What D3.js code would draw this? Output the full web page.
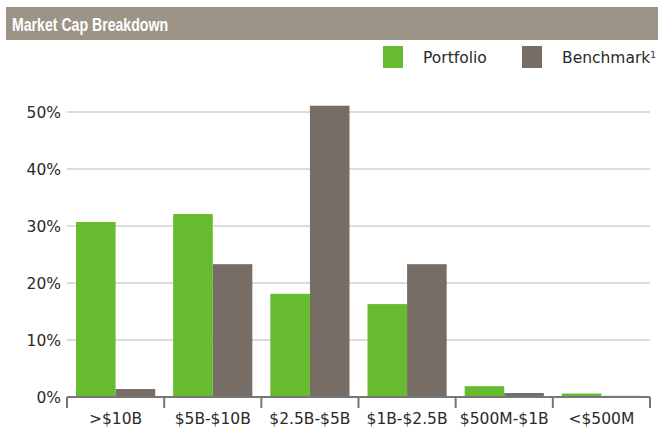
<!DOCTYPE html>
<html lang="en">
<head>
  <meta charset="UTF-8">
  <title>Market Cap Breakdown</title>
  <style>
    body { margin: 0; background: #fff; }
    svg { display: block; font-family: "DejaVu Sans", sans-serif; }
  </style>
</head>
<body>
<div id="chart"></div>
<script src="https://d3js.org/d3.v7.min.js"></script>
<script>
  const categories = [">$10B", "$5B-$10B", "$2.5B-$5B", "$1B-$2.5B", "$500M-$1B", "<$500M"];
  const portfolio = [30.7, 32.1, 18.1, 16.3, 1.9, 0.6];
  const benchmark = [1.4, 23.3, 51.1, 23.3, 0.7, 0.2];
  const yTicks = [0, 10, 20, 30, 40, 50];
  const seriesNames = ["Portfolio", "Benchmark"];

  const width = 658, height = 427;
  const colors = { Portfolio: "#66bb2e", Benchmark: "#766d66" };
  const textColor = "#2a2a2a";

  const svg = d3.select("#chart").append("svg")
    .attr("width", width)
    .attr("height", height);

  // title bar
  svg.append("rect")
    .attr("x", 6).attr("y", 7)
    .attr("width", width - 6).attr("height", 33)
    .attr("fill", "#9d9488");
  svg.append("text")
    .attr("x", 12).attr("y", 31)
    .attr("fill", "#fff")
    .attr("textLength", 156)
    .attr("lengthAdjust", "spacingAndGlyphs")
    .style("font-family", "'Liberation Sans', sans-serif")
    .style("font-weight", "bold")
    .style("font-size", "18.5px")
    .text("Market Cap Breakdown");

  // legend
  const legendX = [383, 522];
  seriesNames.forEach((name, i) => {
    svg.append("rect")
      .attr("x", legendX[i]).attr("y", 46)
      .attr("width", 20).attr("height", 22)
      .attr("fill", colors[name]);
    const t = svg.append("text")
      .attr("x", legendX[i] + 40).attr("y", 63)
      .attr("fill", textColor)
      .style("font-size", "15.5px")
      .text(name);
    if (name === "Benchmark") {
      t.append("tspan").attr("dy", -5).style("font-size", "9px").text("1");
    }
  });

  const x = d3.scaleBand()
    .domain(categories)
    .range([67, 650])
    .paddingInner(0)
    .paddingOuter(0);

  const y = d3.scaleLinear()
    .domain([0, 50])
    .range([397, 112]);

  // gridlines
  svg.append("g")
    .selectAll("line")
    .data(yTicks.filter(d => d > 0))
    .join("line")
    .attr("x1", 67).attr("x2", 650)
    .attr("y1", d => y(d)).attr("y2", d => y(d))
    .attr("stroke", "#dcdcdc")
    .attr("stroke-width", 2);

  // y labels
  svg.append("g")
    .selectAll("text")
    .data(yTicks)
    .join("text")
    .attr("x", 61)
    .attr("y", d => y(d))
    .attr("dy", "0.36em")
    .attr("text-anchor", "end")
    .attr("fill", textColor)
    .style("font-size", "15.5px")
    .text(d => d + "%");

  // bars
  const pad = 9;
  const bw = (x.bandwidth() - 2 * pad) / 2;
  const groups = svg.append("g")
    .selectAll("g")
    .data(categories)
    .join("g")
    .attr("transform", d => `translate(${x(d) + pad},0)`);

  groups.append("rect")
    .attr("x", 0)
    .attr("y", (d, i) => y(portfolio[i]))
    .attr("width", bw)
    .attr("height", (d, i) => y(0) - y(portfolio[i]))
    .attr("fill", colors.Portfolio);

  groups.append("rect")
    .attr("x", bw)
    .attr("y", (d, i) => y(benchmark[i]))
    .attr("width", bw)
    .attr("height", (d, i) => y(0) - y(benchmark[i]))
    .attr("fill", colors.Benchmark);

  // x axis
  const xAxis = svg.append("g")
    .attr("transform", `translate(0,${y(0)})`)
    .call(d3.axisBottom(x).tickSize(0).tickFormat(""));
  xAxis.select(".domain").remove();
  xAxis.append("line")
    .attr("x1", 67).attr("x2", 650)
    .attr("stroke", "#777").attr("stroke-width", 2);
  const bounds = categories.map(c => x(c)).concat([x.range()[1]]);
  xAxis.selectAll(".sep")
    .data(bounds)
    .join("line")
    .attr("class", "sep")
    .attr("x1", d => d).attr("x2", d => d)
    .attr("y1", 0).attr("y2", 11)
    .attr("stroke", "#777").attr("stroke-width", 2);

  svg.append("g")
    .selectAll("text")
    .data(categories)
    .join("text")
    .attr("x", d => x(d) + x.bandwidth() / 2)
    .attr("y", 424)
    .attr("text-anchor", "middle")
    .attr("fill", textColor)
    .style("font-size", "15.5px")
    .text(d => d);
</script>
</body>
</html>
